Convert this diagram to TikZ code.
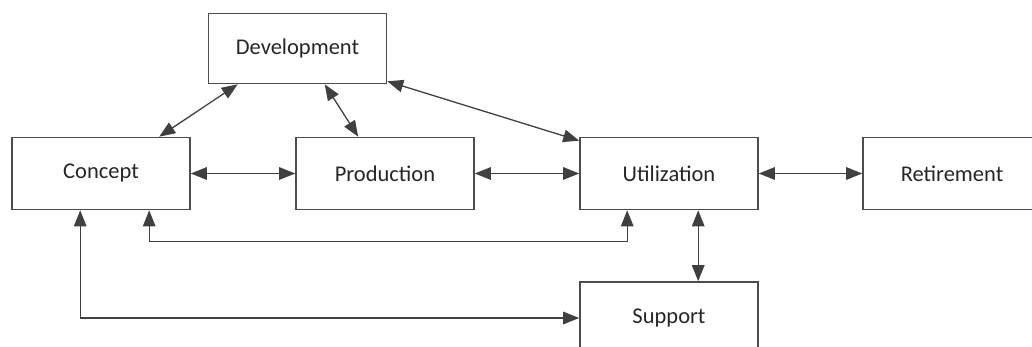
\documentclass[tikz,border=0pt]{standalone}
\usepackage{fontspec}
\setmainfont{Carlito}
\usetikzlibrary{arrows.meta,calc}
\begin{document}
\begin{tikzpicture}[x=1pt,y=-1pt,
  box/.style={draw=black!70, line width=1.6pt, minimum width=178pt, minimum height=72pt,
    inner sep=0pt, font=\fontsize{22.5}{26}\selectfont, text=black!85},
  link/.style={draw=black!75, line width=1.3pt,
    {Triangle[length=16pt,width=12.5pt]}-{Triangle[length=16pt,width=12.5pt]}}]
\useasboundingbox (0,0) rectangle (1032,347);
\clip (0,0) rectangle (1032,347);

% life-cycle stages
\node[box, minimum height=70pt] (dev) at (297.5,48.5) {Development};
\node[box] (concept) at (101,173.5) {Concept};
\node[box] (prod) at (385,173.5) {Production};
\node[box] (util) at (669,173.5) {Utilization};
\node[box] (ret) at (952,173.5) {Retirement};
\node[box] (support) at (669,318) {Support};

% two-way links between stages
\draw[link] ([xshift=148pt]concept.north west) -- ([xshift=30pt]dev.south west);
\draw[link] ([xshift=117pt]dev.south west) -- ([xshift=63pt]prod.north west);
\draw[link] ([yshift=3pt]dev.south east) -- ([yshift=-4pt]util.north west);
\draw[link] (concept) -- (prod);
\draw[link] (prod) -- (util);
\draw[link] (util) -- (ret);
\draw[link] ([xshift=119pt]util.south west) -- ([xshift=119pt]support.north west);
\draw[link] ([xshift=138pt]concept.south west) -- ++(0,31) -| ([xshift=48pt]util.south west);
\draw[link] ([xshift=69pt]concept.south west) |- (support.west);
\end{tikzpicture}
\end{document}
